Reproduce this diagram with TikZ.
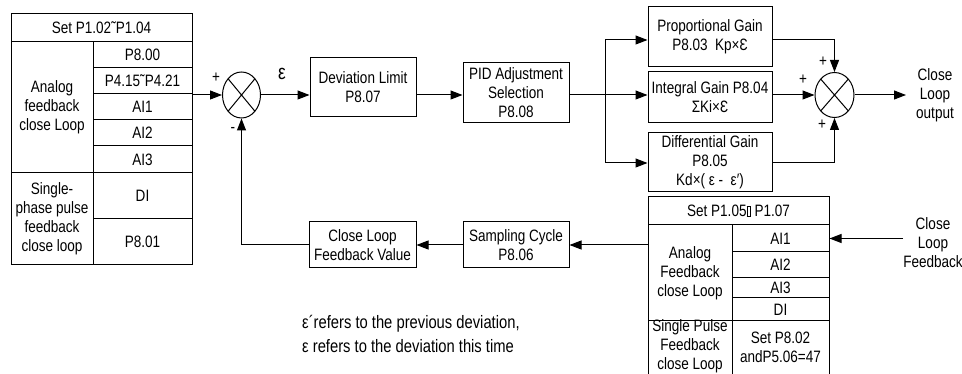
\documentclass[tikz,border=0pt]{standalone}
\usepackage{fontspec}
\setmainfont{Liberation Sans}[FakeStretch=0.82]
\usetikzlibrary{arrows.meta,shapes.geometric}
\newcommand\tofubox{{\setlength\fboxsep{0pt}\setlength\fboxrule{0.6pt}\fbox{\rule{0pt}{10pt}\hspace{3pt}}}}
\begin{document}
\begin{tikzpicture}[x=1pt,y=-1pt,
  every node/.style={font=\fontsize{16.5}{19}\selectfont, inner sep=0pt, align=center},
  cell/.style 2 args={draw, line width=1pt, minimum width=#1, minimum height=#2},
  sumnode/.style={draw, line width=1pt, ellipse, minimum width=38pt, minimum height=46pt,
    path picture={\draw[line width=1pt] (path picture bounding box.north west) -- (path picture bounding box.south east)
      (path picture bounding box.north east) -- (path picture bounding box.south west);}},
  arr/.style={line width=1pt, -{Triangle[length=12pt,width=9pt]}},
  ln/.style={line width=1pt}]
\useasboundingbox (0,0) rectangle (962,374);

% left table
\node[cell={181}{28}] (lhdr) at (101.5,28) {Set P1.02˜P1.04};
\node[cell={82}{131}] (lana) at (52,107.5) {Analog\\feedback\\close Loop};
\node[cell={99}{26}] (l800) at (142.5,55) {P8.00};
\node[cell={99}{26}] (l415) at (142.5,81) {P4.15˜P4.21};
\node[cell={99}{26}] (lai1) at (142.5,107) {AI1};
\node[cell={99}{26}] (lai2) at (142.5,133) {AI2};
\node[cell={99}{27}] (lai3) at (142.5,159.5) {AI3};
\node[cell={82}{92}] (lsp) at (52,219) {Single-\\phase pulse\\feedback\\close loop};
\node[cell={99}{46}] (ldi) at (142.5,196) {DI};
\node[cell={99}{46}] (l801) at (142.5,242) {P8.01};

% first junction
\node[sumnode] (s1) at (241.5,95) {};
\node (p1) at (216,78) {+};
\node (m1) at (233,130) {-};
\node[font=\fontsize{21}{21}\selectfont] (eps) at (282,74) {ε};
\draw[arr] (s1.west -| l415.east) -- (s1.west);

% main chain
\node[cell={106}{59}] (dev) at (363,87.5) {Deviation Limit\\P8.07};
\node[cell={106}{60}] (pid) at (516,93) {PID Adjustment\\Selection\\P8.08};
\draw[arr] (s1.east) -- (s1.east -| dev.west);
\draw[arr] (dev.east |- s1.east) -- (pid.west |- s1.east);

% branches
\coordinate (br) at (605,95);
\coordinate (bt) at (605,40);
\coordinate (bb) at (605,163);
\node[cell={124}{60}] (prop) at (710,37) {Proportional Gain\\P8.03\ \ Kp×Ɛ};
\node[cell={124}{51}] (int) at (710,97.5) {Integral Gain P8.04\\ΣKi×Ɛ};
\node[cell={124}{59}] (dif) at (710,162.5) {Differential Gain\\P8.05\\Kd×( ε -\ \ ε′)};
\draw[ln] (pid.east |- br) -- (br);
\draw[ln] (bt) -- (bb);
\draw[arr] (bt) -- (bt -| prop.west);
\draw[arr] (br) -- (br -| int.west);
\draw[arr] (bb) -- (bb -| dif.west);

% second junction
\node[sumnode, minimum width=39pt, minimum height=45pt] (s2) at (834.5,95) {};
\node (p2a) at (823,62) {+};
\node (p2b) at (803,80) {+};
\node (p2c) at (822,125) {+};
\draw[arr] (prop.east |- bt) -| (s2.north);
\draw[arr] (int.east |- s2.west) -- (s2.west);
\draw[arr] (dif.east |- bb) -| (s2.south);
\coordinate (outend) at (906,95);
\draw[arr] (s2.east) -- (outend);
\node (outt) at (935,95) {Close\\Loop\\output};

% right table
\node[cell={181}{28}] (rhdr) at (738.5,211) {Set P1.05\tofubox\ P1.07};
\node[cell={84}{96}] (rana) at (690,273) {Analog\\Feedback\\close Loop};
\node[cell={97}{27}] (rai1) at (780.5,238.5) {AI1};
\node[cell={97}{26}] (rai2) at (780.5,265) {AI2};
\node[cell={97}{20}] (rai3) at (780.5,288) {AI3};
\node[cell={97}{23}] (rdi) at (780.5,309.5) {DI};
\node[cell={84}{57}] (rsp) at (690,349.5) {};
\node (rspt) at (690,346.5) {Single Pulse\\Feedback\\close Loop};
\node[cell={97}{57}] (rset) at (780.5,349.5) {};
\node (rsett) at (780.5,347) {Set P8.02\\andP5.06=47};

% feedback input
\node (fbt) at (933,243) {Close\\Loop\\Feedback};
\coordinate (fbs) at (903,238.5);
\draw[arr] (fbs) -- (rai1.east);

% feedback path
\node[cell={106}{46}] (samp) at (516,245) {Sampling Cycle\\P8.06};
\node[cell={107}{46}] (clfv) at (362.5,245) {Close Loop\\Feedback Value};
\coordinate (fbl) at (648,245);
\draw[arr] (fbl) -- (samp.east);
\draw[arr] (samp.west) -- (clfv.east);
\draw[arr] (clfv.west) -| (s1.south);

% note
\node[anchor=west, align=left, font=\fontsize{18}{24}\selectfont] (note) at (302,334)
  {ε´refers to the previous deviation,\\ε refers to the deviation this time};
\end{tikzpicture}
\end{document}
